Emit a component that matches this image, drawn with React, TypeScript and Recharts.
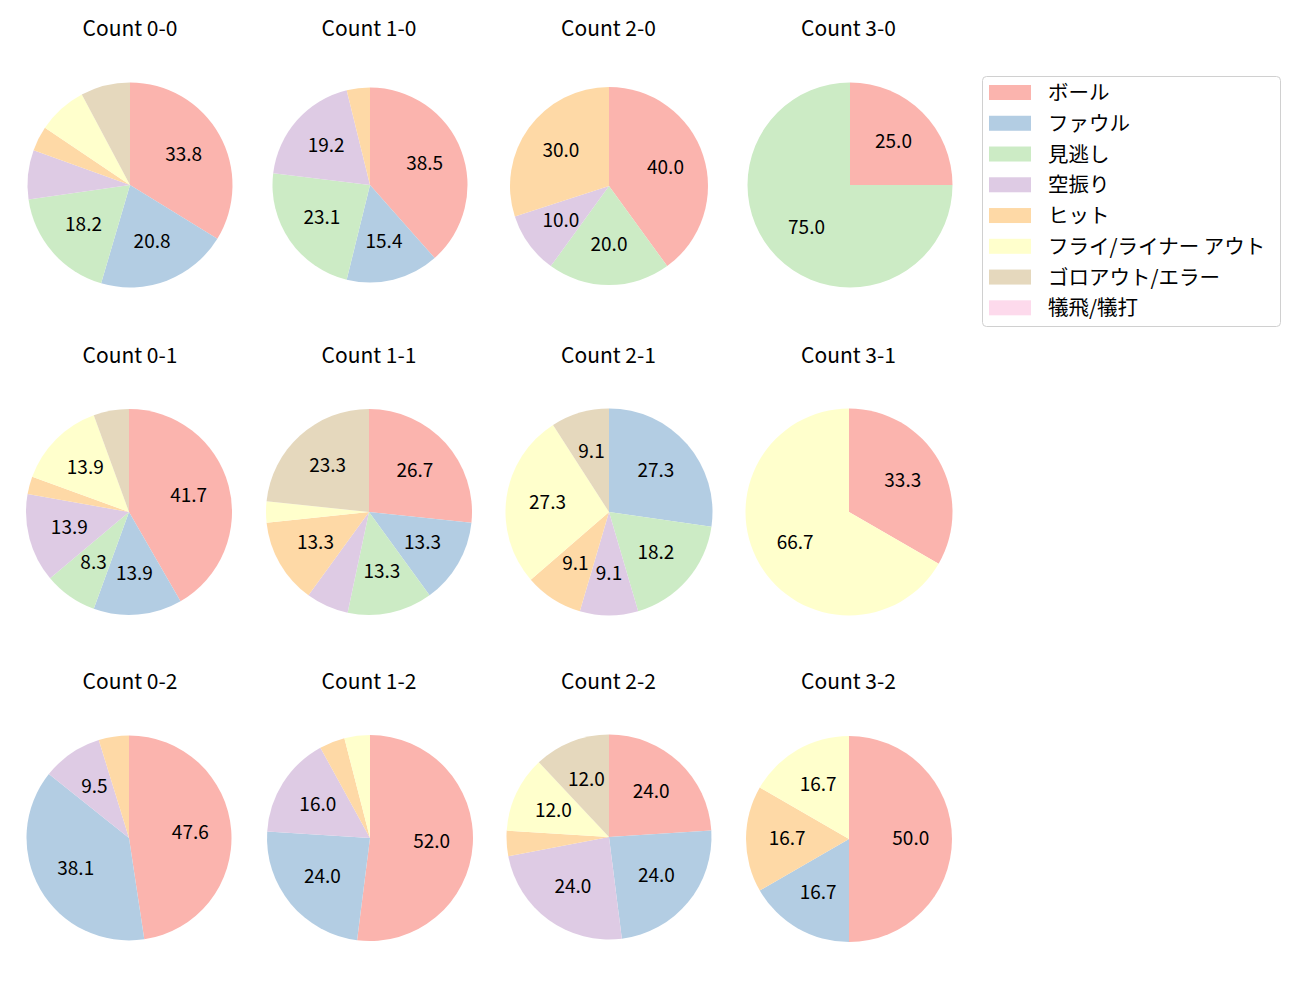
import React from "react";
import { PieChart, Pie, Cell } from "recharts";

const categories = [
  "ボール",
  "ファウル",
  "見逃し",
  "空振り",
  "ヒット",
  "フライ/ライナー アウト",
  "ゴロアウト/エラー",
  "犠飛/犠打",
];

const colors = ["#fbb4ae", "#b3cde3", "#ccebc5", "#decbe4", "#fed9a6", "#ffffcc", "#e5d8bd", "#fddaec"];

const titles = [
  "Count 0-0", "Count 1-0", "Count 2-0", "Count 3-0",
  "Count 0-1", "Count 1-1", "Count 2-1", "Count 3-1",
  "Count 0-2", "Count 1-2", "Count 2-2", "Count 3-2",
];

// pitch counts per category (order as categories)
const count00 = [26, 16, 14, 6, 3, 6, 6, 0];
const count10 = [10, 4, 6, 5, 1, 0, 0, 0];
const count20 = [4, 0, 2, 1, 3, 0, 0, 0];
const count30 = [1, 0, 3, 0, 0, 0, 0, 0];
const count01 = [15, 5, 3, 5, 1, 5, 2, 0];
const count11 = [8, 4, 4, 2, 4, 1, 7, 0];
const count21 = [0, 3, 2, 1, 1, 3, 1, 0];
const count31 = [1, 0, 0, 0, 0, 2, 0, 0];
const count02 = [10, 8, 0, 2, 1, 0, 0, 0];
const count12 = [13, 6, 0, 4, 1, 1, 0, 0];
const count22 = [6, 6, 0, 6, 1, 3, 3, 0];
const count32 = [3, 1, 0, 0, 1, 1, 0, 0];

const allCounts = [
  count00, count10, count20, count30,
  count01, count11, count21, count31,
  count02, count12, count22, count32,
];

// layout (pixels): center x, center y, radius
const layout = [
  [130, 185, 102.5], [369.5, 184.5, 97.5], [608.7, 186, 99], [849.8, 185, 102.5],
  [129, 512, 103], [368.7, 512, 103], [608.5, 512, 103.5], [848.5, 512, 103.5],
  [129, 838, 102.5], [369.5, 838, 103], [608.5, 837, 102.5], [848.5, 839, 103],
];
const titleY = [35.5, 362.5, 689];

const FONT = "'Noto Sans CJK JP', 'Noto Sans', sans-serif";
const RAD = Math.PI / 180;

const renderLabel = (props: any) => {
  const { cx, cy, midAngle, outerRadius, percent } = props;
  if (!percent || percent < 0.08) return null;
  const r = outerRadius * 0.6;
  const x = cx + r * Math.cos(-midAngle * RAD);
  const y = cy + r * Math.sin(-midAngle * RAD) - 2.5;
  return (
    <text
      x={x}
      y={y}
      fill="#000"
      textAnchor="middle"
      dominantBaseline="central"
      fontSize={19}
      fontFamily={FONT}
    >
      {(percent * 100).toFixed(1)}
    </text>
  );
};

const BOX = 240;

function OnePie({ idx }: { idx: number }) {
  const [cx, cy, r] = layout[idx];
  const data = categories
    .map((name, i) => ({ name, value: allCounts[idx][i], color: colors[i] }))
    .filter((d) => d.value > 0);
  return (
    <div style={{ position: "absolute", left: cx - BOX / 2, top: cy - BOX / 2, width: BOX, height: BOX }}>
      <PieChart width={BOX} height={BOX} margin={{ top: 0, right: 0, bottom: 0, left: 0 }}>
        <Pie
          data={data}
          dataKey="value"
          nameKey="name"
          cx={BOX / 2}
          cy={BOX / 2}
          outerRadius={r}
          startAngle={90}
          endAngle={-270}
          stroke="none"
          label={renderLabel}
          labelLine={false}
          isAnimationActive={false}
        >
          {data.map((d, i) => (
            <Cell key={i} fill={d.color} />
          ))}
        </Pie>
      </PieChart>
    </div>
  );
}

export default function App() {
  const legendX = 982.5;
  const legendY = 76.5;
  const rowH = 30.76;
  return (
    <div style={{ position: "relative", width: 1300, height: 1000, background: "#fff", fontFamily: FONT }}>
      <style>{"body{margin:0}"}</style>
      <svg width={1300} height={1000} style={{ position: "absolute", left: 0, top: 0 }}>
        {titles.map((t, i) => (
          <text
            key={t}
            x={[130, 369, 608.5, 848.5][i % 4]}
            y={titleY[Math.floor(i / 4)]}
            textAnchor="middle"
            fontSize={21}
            fontFamily={FONT}
            fill="#000"
          >
            {t}
          </text>
        ))}
        <rect x={legendX} y={legendY} width={298} height={250} rx={4} ry={4} fill="#fff" stroke="#d0d0d0" strokeWidth={1} />
        {categories.map((c, i) => {
          const yc = 92.5 + i * rowH;
          return (
            <g key={c}>
              <rect x={989} y={yc - 7.5} width={42} height={15} fill={colors[i]} />
              <text x={1048} y={yc - 1.5} dominantBaseline="central" fontSize={20.5} fontFamily={FONT} fill="#000">
                {c}
              </text>
            </g>
          );
        })}
      </svg>
      {titles.map((t, i) => (
        <OnePie key={t} idx={i} />
      ))}
    </div>
  );
}
